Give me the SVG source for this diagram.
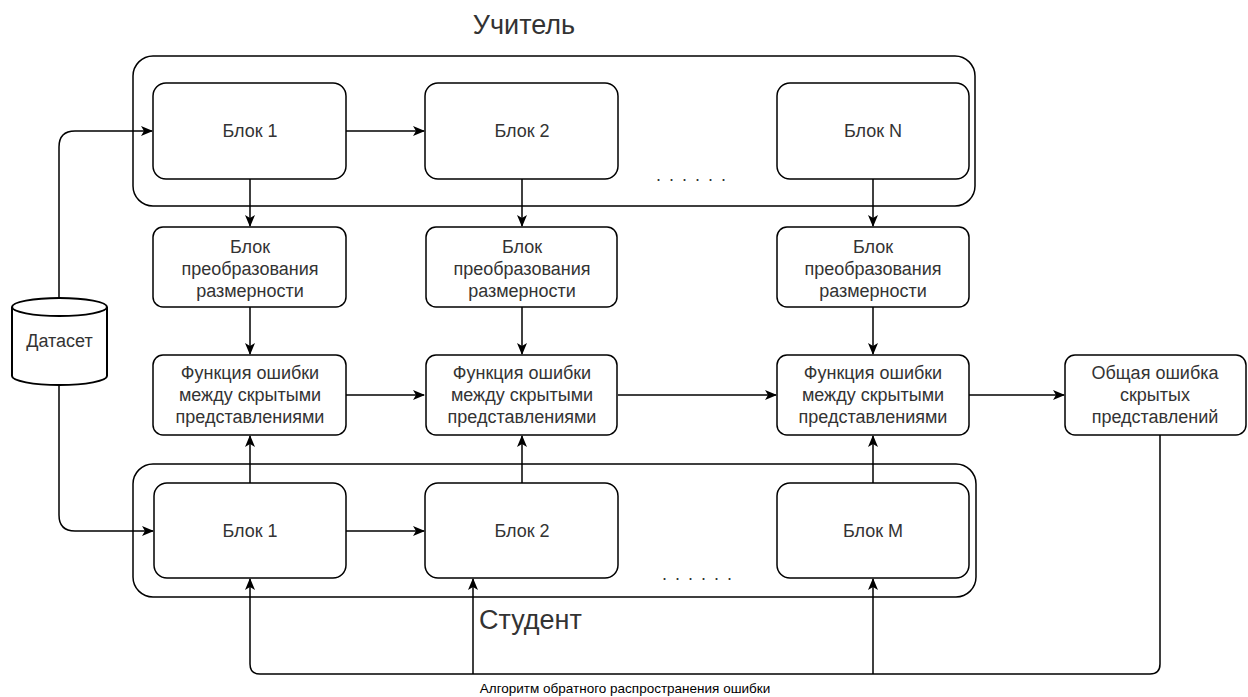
<svg xmlns="http://www.w3.org/2000/svg" width="1248" height="697" viewBox="0 0 1248 697">
<defs>
<marker id="arr" markerWidth="12" markerHeight="10" refX="11" refY="5" orient="auto" markerUnits="userSpaceOnUse">
<path d="M0,0 L12,5 L0,10 L3,5 Z" fill="#000"/>
</marker>
<style>
.box{fill:#fff;stroke:#000;stroke-width:1.5}
.cont{fill:none;stroke:#000;stroke-width:1.5}
.t{font-family:"Liberation Sans",Arial,sans-serif;font-size:18px;fill:#333;text-anchor:middle}
.big{font-family:"Liberation Sans",Arial,sans-serif;font-size:27px;fill:#333}
.small{font-family:"Liberation Sans",Arial,sans-serif;font-size:13.5px;fill:#000;text-anchor:middle}
.c{fill:none;stroke:#000;stroke-width:1.5}
.dots{font-family:"Liberation Sans",Arial,sans-serif;font-size:18px;fill:#333;letter-spacing:8px}
.cyl{fill:#fff;stroke:#000;stroke-width:2}
</style>
</defs>
<rect width="1248" height="697" fill="#fff"/>

<g id="teacher">
<rect class="cont" x="133" y="56" width="842" height="150" rx="20"/>
<text class="big" x="524" y="34" text-anchor="middle">Учитель</text>
<text class="dots" x="656" y="181">......</text>
</g>
<g id="student">
<rect class="cont" x="133" y="464" width="843" height="133" rx="20"/>
<text class="big" x="479" y="629">Студент</text>
<text class="dots" x="662" y="580">......</text>
</g>

<g id="connectors">
<path class="c" d="M59,298 V147 Q59,131 75,131 H152" marker-end="url(#arr)"/>
<path class="c" d="M59,385 V515 Q59,531 75,531 H153" marker-end="url(#arr)"/>
<path class="c" d="M346,131 H424" marker-end="url(#arr)"/>
<path class="c" d="M346,531 H424" marker-end="url(#arr)"/>
<path class="c" d="M250,179 V226" marker-end="url(#arr)"/>
<path class="c" d="M522,179 V226" marker-end="url(#arr)"/>
<path class="c" d="M873,179 V226" marker-end="url(#arr)"/>
<path class="c" d="M250,307 V354" marker-end="url(#arr)"/>
<path class="c" d="M522,307 V354" marker-end="url(#arr)"/>
<path class="c" d="M873,307 V354" marker-end="url(#arr)"/>
<path class="c" d="M250,483 V436" marker-end="url(#arr)"/>
<path class="c" d="M522,483 V436" marker-end="url(#arr)"/>
<path class="c" d="M873,483 V436" marker-end="url(#arr)"/>
<path class="c" d="M346,395 H424" marker-end="url(#arr)"/>
<path class="c" d="M618,395 H776" marker-end="url(#arr)"/>
<path class="c" d="M969,395 H1064" marker-end="url(#arr)"/>
<path class="c" d="M1160,435 V664 Q1160,674 1150,674 H260 Q250,674 250,664 V579" marker-end="url(#arr)"/>
<path class="c" d="M473,674 V579" marker-end="url(#arr)"/>
<path class="c" d="M873,674 V579" marker-end="url(#arr)"/>
<text class="small" x="625" y="693">Алгоритм обратного распространения ошибки</text>
</g>

<g id="dataset">
<path class="cyl" d="M12,307 A47.5,9 0 0 1 107,307 V376 A47.5,9 0 0 1 12,376 Z"/>
<path class="cyl" fill="none" d="M12,307 A47.5,9 0 0 0 107,307"/>
<text class="t" x="59.5" y="347">Датасет</text>
</g>

<g id="t-block1"><rect class="box" x="153" y="83" width="193" height="96" rx="13"/><text class="t" x="250" y="137">Блок 1</text></g>
<g id="t-block2"><rect class="box" x="425" y="83" width="193" height="96" rx="13"/><text class="t" x="522" y="137">Блок 2</text></g>
<g id="t-blockN"><rect class="box" x="777" y="83" width="192" height="96" rx="13"/><text class="t" x="873" y="137">Блок N</text></g>

<g id="conv1"><rect class="box" x="153" y="227" width="193" height="80" rx="10"/><text class="t" x="250" y="253">Блок</text><text class="t" x="250" y="275">преобразования</text><text class="t" x="250" y="297">размерности</text></g>
<g id="conv2"><rect class="box" x="426" y="227" width="191" height="80" rx="10"/><text class="t" x="522" y="253">Блок</text><text class="t" x="522" y="275">преобразования</text><text class="t" x="522" y="297">размерности</text></g>
<g id="conv3"><rect class="box" x="777" y="227" width="192" height="80" rx="10"/><text class="t" x="873" y="253">Блок</text><text class="t" x="873" y="275">преобразования</text><text class="t" x="873" y="297">размерности</text></g>

<g id="loss1"><rect class="box" x="153" y="355" width="193" height="80" rx="10"/><text class="t" x="250" y="379">Функция ошибки</text><text class="t" x="250" y="401">между скрытыми</text><text class="t" x="250" y="423">представлениями</text></g>
<g id="loss2"><rect class="box" x="426" y="355" width="191" height="80" rx="10"/><text class="t" x="522" y="379">Функция ошибки</text><text class="t" x="522" y="401">между скрытыми</text><text class="t" x="522" y="423">представлениями</text></g>
<g id="loss3"><rect class="box" x="777" y="355" width="192" height="80" rx="10"/><text class="t" x="873" y="379">Функция ошибки</text><text class="t" x="873" y="401">между скрытыми</text><text class="t" x="873" y="423">представлениями</text></g>
<g id="total"><rect class="box" x="1065" y="355" width="181" height="80" rx="10"/><text class="t" x="1155" y="379">Общая ошибка</text><text class="t" x="1155" y="401">скрытых</text><text class="t" x="1155" y="423">представлений</text></g>

<g id="s-block1"><rect class="box" x="154" y="483" width="192" height="95" rx="13"/><text class="t" x="250" y="537">Блок 1</text></g>
<g id="s-block2"><rect class="box" x="425" y="483" width="193" height="95" rx="13"/><text class="t" x="522" y="537">Блок 2</text></g>
<g id="s-blockM"><rect class="box" x="777" y="483" width="192" height="95" rx="13"/><text class="t" x="873" y="537">Блок M</text></g>
</svg>
